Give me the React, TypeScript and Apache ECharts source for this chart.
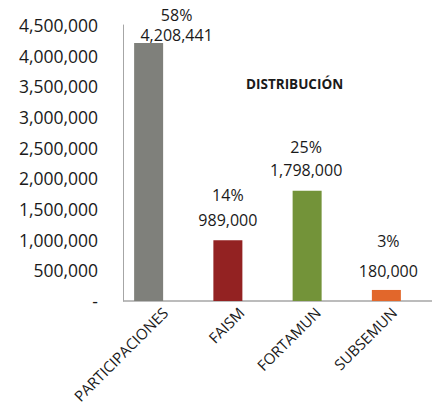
import React, { useEffect, useRef } from "react";
import * as echarts from "echarts";

const categories = ["PARTICIPACIONES", "FAISM", "FORTAMUN", "SUBSEMUN"];
const values = [4208441, 989000, 1798000, 180000];
const percents = ["58%", "14%", "25%", "3%"];
const colors = ["#7f807b", "#932222", "#739339", "#e2672b"];
// label layout tweaks per bar: [dx, dy, percentLineHeight]
const labelLayout: [number, number, number][] = [
  [28, 2.5, 20],
  [0, -10.3, 30],
  [-1, -10.7, 26.7],
  [2, -9.3, 40],
];

const FONT = "'Open Sans', sans-serif";
const TXT = "#1a1a1a";

export default function App() {
  const ref = useRef<HTMLDivElement>(null);
  useEffect(() => {
    document.body.style.margin = "0";
    const chart = echarts.init(ref.current!, null, { renderer: "svg" });
    const fmt = (v: number) => (v === 0 ? "-" : v.toLocaleString("en-US"));
    chart.setOption({
      animation: false,
      textStyle: { fontFamily: FONT, color: TXT },
      title: {
        text: "DISTRIBUCIÓN",
        left: 246,
        top: 77,
        padding: 0,
        textStyle: { fontFamily: FONT, fontSize: 13.5, fontWeight: "bold", color: TXT },
      },
      grid: [
        { left: 109, right: 6, top: 25, bottom: 105 },
        { left: 127, right: -12, top: 25, bottom: 105 },
      ],
      xAxis: [
        {
          type: "category",
          gridIndex: 0,
          data: categories,
          axisLine: { show: false },
          axisTick: { show: false },
          axisLabel: { show: false },
        },
        {
          type: "category",
          gridIndex: 1,
          data: categories,
          axisLine: { show: false },
          axisTick: { show: false },
          axisLabel: {
            rotate: 45,
            margin: 23,
            fontSize: 15,
            fontFamily: FONT,
            color: TXT,
            interval: 0,
          },
        },
      ],
      yAxis: [
        {
          type: "value",
          gridIndex: 0,
          min: 0,
          max: 4500000,
          interval: 500000,
          offset: -14,
          axisLine: { show: true, lineStyle: { color: "#a6a6a6", width: 1 } },
          axisTick: { show: false },
          splitLine: { show: false },
          axisLabel: {
            formatter: fmt,
            fontSize: 17.5,
            margin: 25,
            fontFamily: FONT,
            color: TXT,
          },
        },
        { type: "value", gridIndex: 1, show: false, min: 0, max: 4500000 },
      ],
      graphic: [
        {
          type: "line",
          shape: { x1: 123, y1: 301, x2: 432, y2: 301 },
          style: { stroke: "#a6a6a6", lineWidth: 1.5 },
          silent: true,
        },
      ],
      series: [
        {
          type: "bar",
          xAxisIndex: 0,
          yAxisIndex: 0,
          barWidth: 29,
          data: values.map((v, i) => ({
            value: v,
            itemStyle: { color: colors[i] },
            label: {
              show: true,
              position: "top",
              distance: 0,
              offset: [labelLayout[i][0], labelLayout[i][1]],
              formatter: `{p|${percents[i]}}\n{v|${fmt(v)}}`,
              rich: {
                p: { fontSize: 16, lineHeight: labelLayout[i][2], fontFamily: FONT, color: TXT },
                v: { fontSize: 16, lineHeight: 20, fontFamily: FONT, color: TXT },
              },
            },
          })),
        },
      ],
    });
    return () => chart.dispose();
  }, []);
  return <div ref={ref} style={{ width: 432, height: 406 }} />;
}
